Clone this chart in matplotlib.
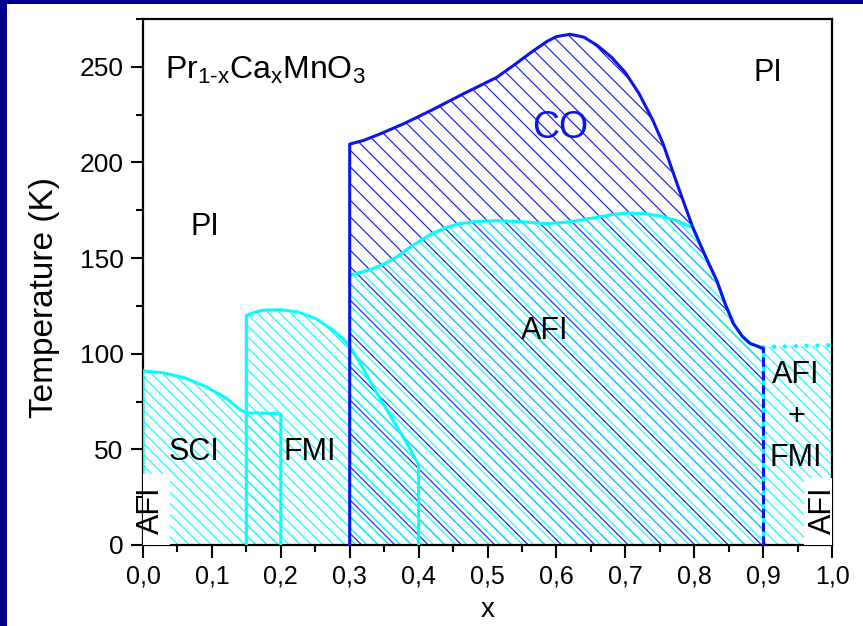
import matplotlib
matplotlib.use('Agg')
import matplotlib.pyplot as plt
from matplotlib.patches import Rectangle
from matplotlib.ticker import MultipleLocator, FuncFormatter

plt.rcParams['font.family'] = ['Liberation Sans', 'DejaVu Sans']
plt.rcParams['mathtext.fontset'] = 'custom'
plt.rcParams['mathtext.rm'] = 'Liberation Sans'
plt.rcParams['mathtext.it'] = 'Liberation Sans'
plt.rcParams['hatch.linewidth'] = 0.8

CYAN = '#00ffff'
BLUE = '#0a14ee'
NAVY = '#000090'

# phase boundaries of Pr(1-x)Ca(x)MnO3, T in K
sci_x = [0.0, 0.03, 0.06, 0.09, 0.12, 0.14, 0.15, 0.175, 0.2]
sci_t = [91, 90, 87.5, 83, 77, 71, 69, 69, 68.5]

fmi_x = [0.15, 0.15, 0.16, 0.175, 0.2, 0.225, 0.25, 0.275, 0.29, 0.3,
         0.32, 0.34, 0.36, 0.38, 0.4]
fmi_t = [0, 120, 121.5, 122.8, 123, 121.8, 118.5, 112.5, 108, 104,
         92, 79, 67, 55, 42]

co_x = [0.3, 0.32, 0.344, 0.38, 0.417, 0.464, 0.513, 0.54, 0.562, 0.586, 0.6,
        0.62, 0.64, 0.66, 0.68, 0.7, 0.72, 0.74, 0.755, 0.775, 0.798, 0.815,
        0.833, 0.845, 0.857, 0.87, 0.881, 0.9]
co_t = [209.6, 211.5, 214.9, 220.5, 227, 235.7, 244.4, 251.3, 257.2, 263.2, 265.8,
        267, 265.5, 261, 255, 247, 236, 222, 209.6, 189, 166, 152,
        138, 126, 115.7, 109, 105.4, 102.8]

afi_x = [0.3, 0.33, 0.35, 0.368, 0.385, 0.402, 0.42, 0.44, 0.46, 0.48, 0.513,
         0.55, 0.586, 0.62, 0.658, 0.685, 0.707, 0.73, 0.75, 0.775, 0.798,
         0.815, 0.833, 0.845, 0.857, 0.87, 0.881, 0.9]
afi_t = [141, 144, 147, 150.5, 155, 159, 163, 166, 168, 169, 169.6,
         169, 168, 169, 171.3, 173, 173.6, 173.2, 172, 169.5, 166,
         152, 138, 126, 115.7, 109, 105.4, 102.8]

mix_x = [0.9, 1.0]
mix_t = [103.5, 104.5]

x_ticks = [0.0, 0.1, 0.2, 0.3, 0.4, 0.5, 0.6, 0.7, 0.8, 0.9, 1.0]
t_ticks = [0, 50, 100, 150, 200, 250]

fig = plt.figure(figsize=(8.63, 6.26), dpi=100)
fig.patches.append(Rectangle((0, 0), 7 / 863, 1, transform=fig.transFigure,
                             facecolor=NAVY, edgecolor='none'))
fig.patches.append(Rectangle((0, 1 - 4 / 626), 1, 4 / 626, transform=fig.transFigure,
                             facecolor=NAVY, edgecolor='none'))

ax = fig.add_axes([143 / 863, 1 - 545 / 626, 689 / 863, 526 / 626])
ax.set_xlim(0, 1.0)
ax.set_ylim(0, 275)

# hatched phase areas
ax.fill_between(co_x, 0, co_t, facecolor='none', edgecolor=BLUE, hatch='\\\\', linewidth=0, zorder=1)
ax.fill_between(afi_x, 0, afi_t, facecolor='none', edgecolor=CYAN, hatch='\\\\\\', linewidth=0, zorder=2)
ax.fill_between(sci_x, 0, sci_t, facecolor='none', edgecolor=CYAN, hatch='\\\\\\', linewidth=0, zorder=2)
ax.fill_between(fmi_x, 0, fmi_t, facecolor='none', edgecolor=CYAN, hatch='\\\\\\', linewidth=0, zorder=2)
ax.fill_between(mix_x, 0, mix_t, facecolor='none', edgecolor=CYAN, hatch='\\\\\\', linewidth=0, zorder=2)

# boundaries
lw = 2.2
ax.plot([0, 0] + sci_x + [sci_x[-1]], [0, sci_t[0]] + sci_t + [0], color=CYAN, lw=lw, zorder=4)
ax.plot(fmi_x + [fmi_x[-1]], fmi_t + [0], color=CYAN, lw=lw, zorder=4)
ax.plot(afi_x, afi_t, color=CYAN, lw=lw, zorder=4)
ax.plot([co_x[0]] + co_x, [0] + co_t, color=BLUE, lw=lw, zorder=5)
ax.plot([0.9, 0.9], [0, co_t[-1]], color=CYAN, lw=lw, zorder=4)
ax.plot([0.9, 0.9], [0, co_t[-1]], color=BLUE, lw=lw, ls=(0, (3, 1.5)), zorder=5)
ax.plot(mix_x, mix_t, color=CYAN, lw=3, ls=(0, (0.1, 2.5)), dash_capstyle='round', zorder=4)

# white label patches at the AFI corners
ax.add_patch(Rectangle((0, 0), 0.039, 37, facecolor='white', edgecolor='none', zorder=6))
ax.add_patch(Rectangle((0.96, 0), 0.04, 35, facecolor='white', edgecolor='none', zorder=6))

fs = 22
ax.text(0.032, 248, r'Pr$_{1\text{-}x}$Ca$_x$MnO$_3$', fontsize=23, va='center', zorder=7)
ax.text(0.09, 166, 'PI', fontsize=fs, ha='center', va='center', zorder=7)
ax.text(0.907, 247, 'PI', fontsize=fs, ha='center', va='center', zorder=7)
ax.text(0.605, 218, 'CO', fontsize=27, color=BLUE, ha='center', va='center', zorder=7)
ax.text(0.583, 112, 'AFI', fontsize=fs, ha='center', va='center', zorder=7)
ax.text(0.074, 48.5, 'SCI', fontsize=fs, ha='center', va='center', zorder=7)
ax.text(0.242, 48.5, 'FMI', fontsize=fs, ha='center', va='center', zorder=7)
ax.text(0.948, 67, 'AFI\n+\nFMI', fontsize=fs, ha='center', va='center',
        linespacing=1.5, zorder=7)
ax.text(0.011, 18, 'AFI', fontsize=fs, rotation=90, ha='center', va='center', zorder=7)
ax.text(0.987, 18, 'AFI', fontsize=fs, rotation=90, ha='center', va='center', zorder=7)

ax.set_xticks(x_ticks)
ax.set_yticks(t_ticks)
ax.xaxis.set_minor_locator(MultipleLocator(0.05))
ax.yaxis.set_minor_locator(MultipleLocator(25))
ax.xaxis.set_major_formatter(FuncFormatter(lambda v, p: f'{v:.1f}'.replace('.', ',')))
ax.tick_params(which='major', direction='out', length=9, width=1.5, labelsize=19, pad=5)
ax.tick_params(which='minor', direction='out', length=5, width=1.5)
ax.tick_params(axis='x', labelsize=18)
for sp in ax.spines.values():
    sp.set_linewidth(1.6)

ax.set_xlabel('x', fontsize=20, labelpad=6)
ax.set_ylabel('Temperature (K)', fontsize=24)
ax.yaxis.set_label_coords(-0.12, 0.471)

fig.savefig('out.png', dpi=100)
